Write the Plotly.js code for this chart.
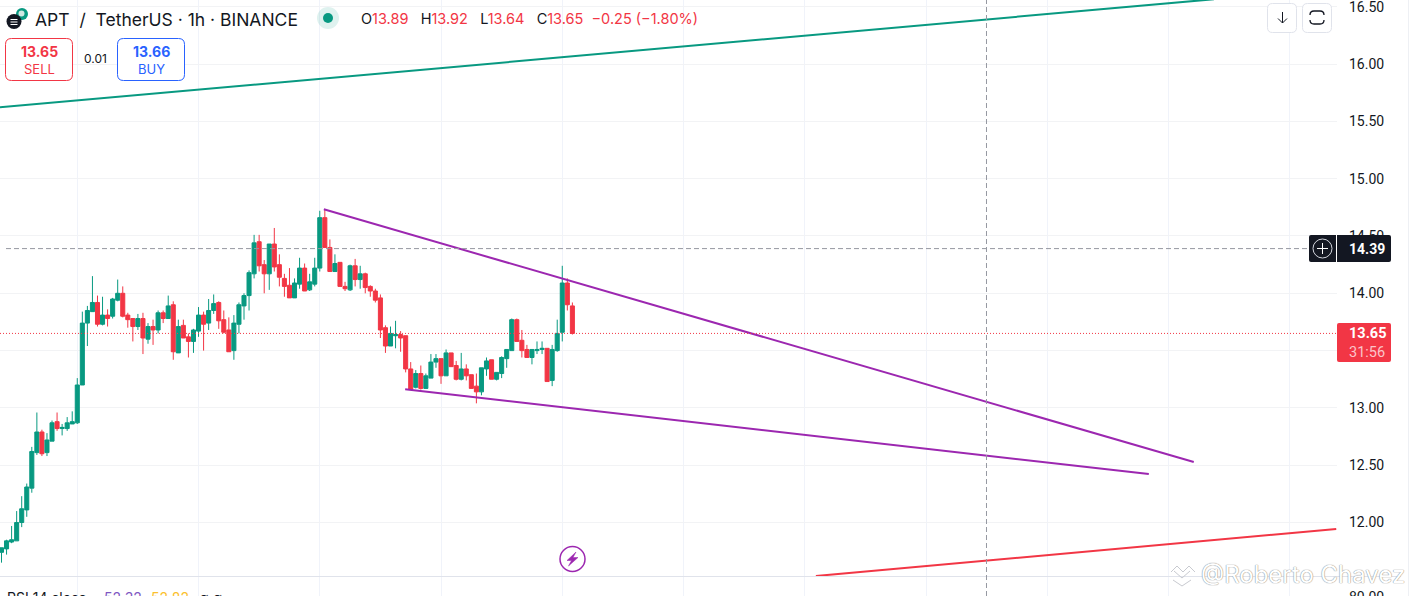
<!DOCTYPE html>
<html><head><meta charset="utf-8">
<script src="https://cdn.plot.ly/plotly-3.0.1.min.js"></script>
<style>html,body{margin:0;padding:0;background:#fff;overflow:hidden}#c{width:1411px;height:596px}</style>
</head><body><div id="c"></div>
<script>
const opens = [11.74,11.77,11.83,11.84,12.00,12.11,12.30,12.61,12.79,12.61,12.71,12.88,12.82,12.82,12.86,12.87,13.20,13.74,13.84,13.92,13.73,13.81,13.80,13.94,14.00,13.81,13.78,13.71,13.78,13.60,13.71,13.68,13.83,13.78,13.90,13.48,13.72,13.62,13.58,13.67,13.81,13.74,13.85,13.92,13.77,13.68,13.50,13.73,13.89,13.98,14.17,14.45,14.25,14.17,14.43,14.25,14.13,14.07,13.96,14.08,14.22,14.03,14.08,14.22,14.66,14.40,14.19,14.27,14.06,14.03,14.24,14.12,14.17,14.06,14.02,13.96,13.70,13.54,13.63,13.64,13.63,13.34,13.18,13.30,13.17,13.26,13.40,13.43,13.28,13.48,13.37,13.25,13.34,13.29,13.19,13.14,13.34,13.42,13.25,13.30,13.43,13.50,13.77,13.59,13.51,13.44,13.50,13.51,13.52,13.24,13.50,13.66,14.09,13.89];
const highs = [11.78,11.85,11.97,12.10,12.23,12.34,12.66,12.96,12.81,12.78,12.89,12.96,12.86,12.92,12.97,13.26,13.84,13.89,14.15,13.98,13.97,13.86,13.96,14.12,14.06,13.83,13.78,13.82,13.83,13.74,13.77,13.85,13.85,13.98,13.93,13.77,13.77,13.65,13.69,13.88,13.84,13.95,13.99,13.93,13.85,13.79,13.81,13.92,14.00,14.20,14.51,14.51,14.29,14.43,14.57,14.34,14.17,14.22,14.13,14.31,14.26,14.17,14.31,14.72,14.73,14.47,14.34,14.27,14.10,14.25,14.30,14.24,14.18,14.07,14.04,13.99,13.72,13.71,13.76,13.67,13.63,13.40,13.33,13.37,13.30,13.47,13.47,13.43,13.51,13.48,13.41,13.48,13.38,13.29,13.30,13.35,13.44,13.42,13.31,13.45,13.51,13.78,13.78,13.68,13.55,13.51,13.58,13.58,13.52,13.55,13.77,14.24,14.13,13.92];
const lows = [11.65,11.72,11.82,11.84,11.96,12.05,12.26,12.59,12.58,12.58,12.71,12.80,12.76,12.80,12.86,12.86,13.20,13.54,13.84,13.71,13.72,13.71,13.78,13.93,13.79,13.70,13.58,13.68,13.47,13.56,13.55,13.65,13.74,13.78,13.42,13.48,13.61,13.44,13.48,13.62,13.50,13.68,13.82,13.69,13.65,13.49,13.42,13.65,13.77,13.85,14.13,14.19,14.00,14.03,14.19,14.06,13.97,13.96,13.96,14.04,14.02,14.02,14.06,14.19,14.40,14.19,14.19,14.06,14.02,14.02,14.06,14.04,14.00,13.97,13.92,13.61,13.48,13.54,13.52,13.49,13.31,13.16,13.17,13.16,13.17,13.26,13.35,13.21,13.28,13.36,13.24,13.24,13.24,13.17,13.04,13.11,13.28,13.25,13.24,13.26,13.35,13.50,13.58,13.44,13.44,13.38,13.47,13.47,13.23,13.19,13.49,13.58,13.85,13.64];
const closes = [11.78,11.84,11.85,12.00,12.12,12.31,12.62,12.79,12.60,12.72,12.87,12.82,12.83,12.87,12.88,13.20,13.74,13.85,13.92,13.73,13.81,13.78,13.95,14.00,13.80,13.77,13.71,13.78,13.61,13.71,13.68,13.83,13.78,13.89,13.49,13.71,13.61,13.58,13.68,13.81,13.73,13.85,13.91,13.76,13.66,13.49,13.74,13.90,13.98,14.18,14.44,14.24,14.17,14.43,14.23,14.14,14.06,13.96,14.09,14.22,14.02,14.10,14.22,14.66,14.40,14.19,14.26,14.06,14.04,14.24,14.12,14.17,14.05,14.02,13.94,13.68,13.54,13.65,13.64,13.61,13.34,13.16,13.30,13.17,13.28,13.40,13.43,13.28,13.48,13.36,13.25,13.34,13.28,13.17,13.14,13.35,13.41,13.25,13.31,13.44,13.51,13.77,13.58,13.50,13.44,13.51,13.51,13.52,13.23,13.51,13.65,14.09,13.90,13.65];
const barIndex = opens.map((_, i) => i);

const priceTicks = [12,12.5,13,13.5,14,14.5,15,15.5,16,16.5];
const trendGreenX = [-1,240],  trendGreenY = [15.62,16.566];
const wedgeUpperX = [63.8,236], wedgeUpperY = [14.733,12.528];
const wedgeLowerX = [79.9,227.1], wedgeLowerY = [13.162,12.423];
const trendRedX = [161.2,264.2], trendRedY = [11.533,11.943];
const lastPrice = 13.65, crossPrice = 14.39, crossBar = 194.97;

const GREEN='#089981', RED='#f23645', PURPLE='#9c27b0', INK='#131722', BLUE='#2962ff';
const FONT='"Roboto","Liberation Sans",sans-serif';
const WIDE='"Inter","Roboto",sans-serif';
const W=1411,H=596;
const px=x=>x/W, py=y=>1-y/H;
function pth(cmds){
  return cmds.map(c=>c[0]+(c.length>1?(px(c[1])+','+py(c[2])):'')).join(' ');
}
function rrect(x0,y0,x1,y1,r,line,fill,lw){
  const q=(a,b,c,d)=>'Q'+px(a)+','+py(b)+' '+px(c)+','+py(d);
  const s='M'+px(x0+r)+','+py(y0)+' L'+px(x1-r)+','+py(y0)+' '+q(x1,y0,x1,y0+r)+' L'+px(x1)+','+py(y1-r)+' '+q(x1,y1,x1-r,y1)+' L'+px(x0+r)+','+py(y1)+' '+q(x0,y1,x0,y1-r)+' L'+px(x0)+','+py(y0+r)+' '+q(x0,y0,x0+r,y0)+' Z';
  return {type:'path',xref:'paper',yref:'paper',path:s,line:{color:line||'rgba(0,0,0,0)',width:lw==null?1:lw},fillcolor:fill||'rgba(0,0,0,0)'};
}
function seg(cmds,color,lw){return {type:'path',xref:'paper',yref:'paper',path:pth(cmds),line:{color:color,width:lw||1},fillcolor:'rgba(0,0,0,0)'};}
function circ(cx,cy,r,line,fill,lw){return {type:'circle',xref:'paper',yref:'paper',x0:px(cx-r),x1:px(cx+r),y0:py(cy+r),y1:py(cy-r),line:{color:line||'rgba(0,0,0,0)',width:lw==null?1:lw},fillcolor:fill||'rgba(0,0,0,0)'};}
function label(x,y,text,size,color,anchor,family){return {xref:'paper',yref:'paper',x:px(x),y:py(y),text:text,showarrow:false,xanchor:anchor||'left',yanchor:'middle',borderpad:0,font:{family:family||WIDE,size:size,color:color}};}

const lineTrace=(x,y,color)=>({type:'scatter',mode:'lines',x:x,y:y,line:{color:color,width:2},hoverinfo:'skip',showlegend:false});

const traces=[
 {type:'candlestick',x:barIndex,open:opens,high:highs,low:lows,close:closes,whiskerwidth:0,
  increasing:{line:{color:GREEN,width:1},fillcolor:GREEN},decreasing:{line:{color:RED,width:1},fillcolor:RED},showlegend:false},
 lineTrace(trendGreenX,trendGreenY,GREEN),
 lineTrace(wedgeUpperX,wedgeUpperY,PURPLE),
 lineTrace(wedgeLowerX,wedgeLowerY,PURPLE),
 lineTrace(trendRedX,trendRedY,RED)
];

const shapes=[
 {type:'line',xref:'paper',yref:'paper',x0:0,x1:px(1401),y0:py(576.5),y1:py(576.5),line:{color:'#e0e3eb',width:1}},
 {type:'line',xref:'paper',yref:'paper',x0:px(1408.5),x1:px(1408.5),y0:0,y1:1,line:{color:'#eef0f4',width:1}},
 {type:'line',xref:'paper',yref:'y',x0:0,x1:px(1336),y0:lastPrice,y1:lastPrice,line:{color:RED,width:1,dash:'1px,2px'}},
 {type:'line',xref:'paper',yref:'y',x0:px(6),x1:px(1309),y0:crossPrice,y1:crossPrice,line:{color:'#9598a1',width:1,dash:'5px,3px'}},
 {type:'line',xref:'x',yref:'paper',x0:crossBar,x1:crossBar,y0:0,y1:1,line:{color:'#9598a1',width:1,dash:'5px,3px'}},
 rrect(1309,235,1391,262,2,null,INK,0),
 {type:'line',xref:'paper',yref:'paper',x0:px(1336.5),x1:px(1336.5),y0:py(235),y1:py(262),line:{color:'#fff',width:1}},
 circ(1322.5,248.5,9.5,'#d1d4dc',null,1),
 seg([['M',1317,248.5],['L',1328,248.5],['M',1322.5,243],['L',1322.5,254]],'#fff',1),
 rrect(1337,323,1391,362,2,null,RED,0),
 rrect(5.5,38.5,72.5,80.5,6,RED,'#fff',1),
 rrect(117.5,38.5,184.5,80.5,6,BLUE,'#fff',1),
 rrect(1267.5,3.5,1296.5,32.5,5,'#e0e3eb','#fff',1),
 rrect(1302.5,3.5,1331.5,32.5,5,'#e0e3eb','#fff',1),
 seg([['M',1282.5,12],['L',1282.5,23],['M',1278,18.5],['L',1282.5,23],['L',1287,18.5]],INK,1),
 {type:'path',xref:'paper',yref:'paper',fillcolor:'rgba(0,0,0,0)',line:{color:INK,width:1.3},
  path:'M'+px(1310)+','+py(15)+' Q'+px(1310)+','+py(11)+' '+px(1314)+','+py(11)+' L'+px(1320)+','+py(11)+' Q'+px(1324)+','+py(11)+' '+px(1324)+','+py(15)+
       ' M'+px(1310)+','+py(20)+' Q'+px(1310)+','+py(24)+' '+px(1314)+','+py(24)+' L'+px(1320)+','+py(24)+' Q'+px(1324)+','+py(24)+' '+px(1324)+','+py(20)},
 circ(22,14,6,null,GREEN,0),
 circ(21.5,13.5,3,null,'#cfe9e3',0),
 circ(14,21.5,7.5,null,INK,0),
 seg([['M',10.5,19.5],['L',17.5,19.5],['M',10.5,22],['L',17.5,22],['M',10.5,24.5],['L',17.5,24.5]],'#fff',1),
 circ(328,18,11,null,'rgba(8,153,129,0.13)',0),
 circ(328,18,5,null,GREEN,0),
 circ(572.5,559,12.5,PURPLE,'#fff',1.5),
 {type:'path',xref:'paper',yref:'paper',path:pth([['M',576,552],['L',567,560.5],['L',571.5,560.5],['L',568.5,566],['L',578,557.5],['L',573,557.5],['Z']]),line:{color:PURPLE,width:0.5},fillcolor:PURPLE},
 seg([['M',1171,572],['L',1177,566],['L',1183,572],['M',1174,571],['L',1182,578],['L',1190,571],['M',1183,572],['L',1189,566],['L',1195,572],['M',1173,580],['L',1182,586],['L',1191,580]],'#c8cad0',1)
];

const red=s=>'<span style="color:'+RED+'">'+s+'</span>';
const ink=s=>'<span style="color:'+INK+'">'+s+'</span>';
const gap='\u00A0\u00A0 ';
const annotations=[
 label(34,19.5,'APT\u00A0 /\u00A0 TetherUS · 1h · BINANCE',17.5,INK),
 label(360,18.5,ink('O')+red('13.89')+gap+ink('H')+red('13.92')+gap+ink('L')+red('13.64')+gap+ink('C')+red('13.65')+red('\u00A0 −0.25 (−1.80%)'),14.5,RED),
 label(39,52,'<b>13.65</b>',14,RED,'center'),
 label(39,69,'SELL',13,RED,'center'),
 label(95,59,'0.01',12,INK,'center'),
 label(151,52,'<b>13.66</b>',14,BLUE,'center'),
 label(151,69,'BUY',13,BLUE,'center'),
 label(1367,249,'<b>14.39</b>',14,'#fff','center',FONT),
 label(1367,333.5,'<b>13.65</b>',14.5,'#fff','center',FONT),
 label(1367,352,'31:56',14.5,'#fbc4c9','center',FONT),
 label(1348,597,'80.00',14,INK,'left',FONT),
 label(6,597,'RSI 14 close',14,INK),
 label(103,597,'52.32',14,'#7e57c2'),
 label(150,597,'52.82',14,'#fbc02d'),
 label(198,597,'∅ ∅',14,INK),
 {xref:'paper',yref:'paper',x:px(1199),y:py(574),text:'@Roberto Chavez',showarrow:false,xanchor:'left',yanchor:'middle',
  font:{family:WIDE,size:24,color:'#ffffff',shadow:'0 0 1px #8a8a8a, 0 0 1px #8a8a8a'}}
];

const layout={
 width:W,height:H,margin:{l:0,r:0,t:0,b:0},paper_bgcolor:'#fff',plot_bgcolor:'#fff',showlegend:false,boxmode:'overlay',boxgap:0.2,boxgroupgap:0,
 font:{family:FONT,color:INK,size:14},
 xaxis:{domain:[0,1337/W],range:[-0.297,264.35],type:'linear',tick0:15,dtick:24,showticklabels:false,ticks:'',
  showgrid:true,gridcolor:'#f0f3fa',gridwidth:1,zeroline:false,showline:false,rangeslider:{visible:false},fixedrange:true},
 yaxis:{domain:[0,1],range:[11.359,16.559],side:'right',tickmode:'array',tickvals:priceTicks,ticktext:priceTicks.map(v=>v.toFixed(2)),
  ticks:'',ticklabelstandoff:11,ticklabeloverflow:'allow',showgrid:true,gridcolor:'#f2f3f5',gridwidth:1,zeroline:false,showline:false,fixedrange:true,
  tickfont:{family:FONT,size:14,color:INK}},
 shapes:shapes,annotations:annotations
};
Plotly.newPlot('c',traces,layout,{displayModeBar:false,staticPlot:true,responsive:false});
</script></body></html>
